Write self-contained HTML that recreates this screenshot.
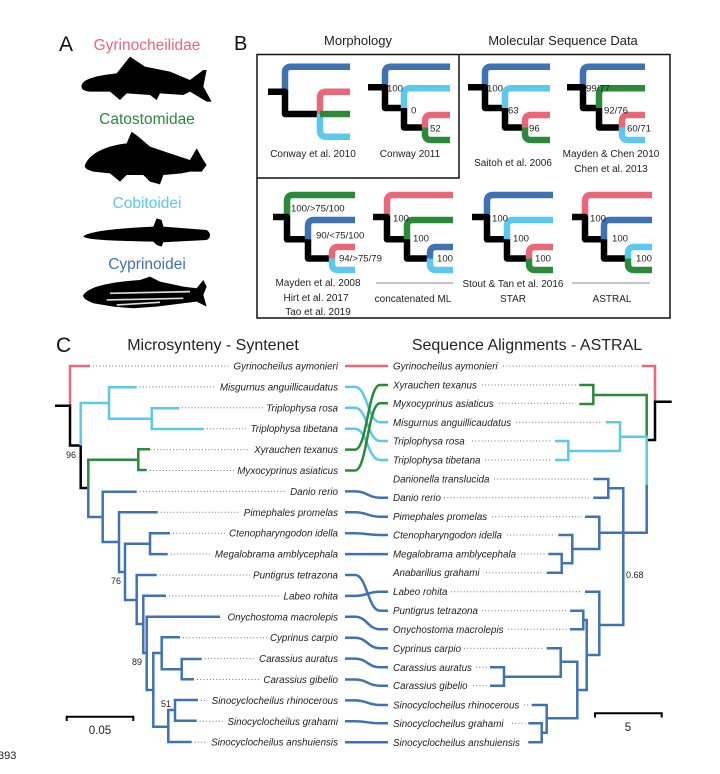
<!DOCTYPE html>
<html><head><meta charset="utf-8"><style>
html,body{margin:0;padding:0;background:#fff;}
svg{display:block;font-family:"Liberation Sans",Arial,sans-serif;}
.sp{font-size:9.8px;font-style:italic;fill:#222;}
.bt{font-size:9.6px;fill:#222;}
.cap{font-size:10px;fill:#222;text-anchor:middle;}
.dot{stroke:#777;stroke-width:1;stroke-dasharray:1 2.2;fill:none;}
.t path{fill:none;stroke-width:6.5;stroke-linecap:butt;stroke-linejoin:round;}
.c path{fill:none;stroke-width:2.5;}
</style></head><body>
<svg width="720" height="774" viewBox="0 0 720 774" xmlns="http://www.w3.org/2000/svg">
<!-- Panel A -->
<text x="59" y="51" font-size="21" fill="#111">A</text>
<text x="147" y="50" font-size="15.5" fill="#e8687a" text-anchor="middle">Gyrinocheilidae</text>
<text x="147" y="124" font-size="15.5" fill="#2a8a3a" text-anchor="middle">Catostomidae</text>
<text x="147" y="208" font-size="15.5" fill="#5bc8ef" text-anchor="middle">Cobitoidei</text>
<text x="147" y="269" font-size="15.5" fill="#3f72b2" text-anchor="middle">Cyprinoidei</text>
<g transform="translate(50,25) scale(0.3333)">
<path fill="#000" d="M95,180 C100,160 150,150 200,145 L240,95 L285,125 L360,140 L420,165 L460,135 L470,135 L460,185 L485,230 L470,230 L420,200 L400,210 L330,205 L320,225 L300,210 L230,205 L210,225 L180,200 L120,200 C100,198 92,192 95,180 Z"/>
<path fill="#000" d="M105,420 C120,380 180,360 230,355 L245,320 L265,335 L300,365 L360,385 L420,405 L440,370 L460,405 L470,420 L455,440 L420,440 L395,445 L340,450 L330,478 L300,470 L280,450 L230,450 L210,470 L180,445 L130,440 C110,435 102,428 105,420 Z"/>
<path fill="#000" d="M100,635 C110,620 200,610 310,605 L320,580 L335,585 L340,605 L470,615 C485,625 482,640 470,645 L340,652 L335,665 L320,660 L310,650 C200,648 110,645 100,635 Z"/>
<path fill="#000" d="M100,810 C120,780 200,770 270,765 L300,755 L330,770 L400,785 L440,790 L460,765 L470,785 L460,810 L470,845 L440,830 L400,835 L320,845 L250,850 L190,845 L130,835 C105,825 98,818 100,810 Z"/>
<g stroke="#ddd" stroke-width="5" fill="none"><path d="M180,805 L420,800"/><path d="M170,825 L400,820"/><path d="M200,840 L330,832"/></g>
</g>

<!-- Panel B -->
<text x="234" y="50" font-size="20" fill="#111">B</text>
<text x="358" y="45" font-size="13" fill="#222" text-anchor="middle">Morphology</text>
<text x="563" y="45" font-size="13" fill="#222" text-anchor="middle">Molecular Sequence Data</text>
<rect x="257" y="54.5" width="413" height="263.5" fill="none" stroke="#111" stroke-width="1.5"/>
<path d="M459,54.5 V178 H257" fill="none" stroke="#111" stroke-width="1.5"/>

<g class="t">
<!-- Tree1 Conway 2010 -->
<path stroke="#3f72b2" d="M350,66.7 H291 Q285,66.7 285,72.7 V91.7"/>
<path stroke="#000" d="M268,91.7 H285 V114 H320"/>
<path stroke="#e8687a" d="M350,91.7 H326 Q320,91.7 320,97.7 V114"/>
<path stroke="#5bc8ef" d="M320,114 V130.7 Q320,136.7 326,136.7 H350"/>
<path stroke="#2a8a3a" d="M320,114 H350"/>
<!-- Tree2 -->
<path stroke="#3f72b2" d="M450,66.7 H391 Q385,66.7 385,72.7 V87.3"/>
<path stroke="#000" d="M368,87.3 H385 V108 H404"/>
<path stroke="#5bc8ef" d="M450,88.3 H410 Q404,88.3 404,94.3 V108"/>
<path stroke="#000" d="M404,108 V127.5 H425"/>
<path stroke="#e8687a" d="M450,115 H431 Q425,115 425,121 V127.5"/>
<path stroke="#2a8a3a" d="M425,127.5 V134 Q425,140 431,140 H450"/>
<!-- Tree3 -->
<path stroke="#3f72b2" d="M550,66.7 H491 Q485,66.7 485,72.7 V87.3"/>
<path stroke="#000" d="M468,87.3 H485 V108 H505"/>
<path stroke="#5bc8ef" d="M550,88.3 H511 Q505,88.3 505,94.3 V108"/>
<path stroke="#000" d="M505,108 V127.5 H525"/>
<path stroke="#e8687a" d="M550,115 H531 Q525,115 525,121 V127.5"/>
<path stroke="#2a8a3a" d="M525,127.5 V134 Q525,140 531,140 H550"/>
<!-- Tree4 -->
<path stroke="#3f72b2" d="M645,66.7 H589 Q583,66.7 583,72.7 V87.3"/>
<path stroke="#000" d="M567,87.3 H583 V108 H599"/>
<path stroke="#2a8a3a" d="M645,88.3 H605 Q599,88.3 599,94.3 V108"/>
<path stroke="#000" d="M599,108 V127.5 H622"/>
<path stroke="#e8687a" d="M645,115 H628 Q622,115 622,121 V127.5"/>
<path stroke="#5bc8ef" d="M622,127.5 V134 Q622,140 628,140 H645"/>
<!-- Tree5 -->
<path stroke="#2a8a3a" d="M355,195 H293 Q287,195 287,201 V217"/>
<path stroke="#000" d="M273,217 H287 V239.3 H308"/>
<path stroke="#3f72b2" d="M355,220 H314 Q308,220 308,226 V239.3"/>
<path stroke="#000" d="M308,239.3 V258.5 H332"/>
<path stroke="#e8687a" d="M355,247 H338 Q332,247 332,253 V258.5"/>
<path stroke="#5bc8ef" d="M332,258.5 V264 Q332,270 338,270 H355"/>
<!-- Tree6 -->
<path stroke="#e8687a" d="M453,195 H393 Q387,195 387,201 V217"/>
<path stroke="#000" d="M373,217 H387 V239.3 H407"/>
<path stroke="#2a8a3a" d="M453,220 H413 Q407,220 407,226 V239.3"/>
<path stroke="#000" d="M407,239.3 V258.5 H430"/>
<path stroke="#3f72b2" d="M453,247 H436 Q430,247 430,253 V258.5"/>
<path stroke="#5bc8ef" d="M430,258.5 V264 Q430,270 436,270 H453"/>
<!-- Tree7 -->
<path stroke="#3f72b2" d="M553,195 H493 Q487,195 487,201 V217"/>
<path stroke="#000" d="M472,217 H487 V239.3 H507"/>
<path stroke="#5bc8ef" d="M553,220 H513 Q507,220 507,226 V239.3"/>
<path stroke="#000" d="M507,239.3 V258.5 H529"/>
<path stroke="#e8687a" d="M553,247 H535 Q529,247 529,253 V258.5"/>
<path stroke="#2a8a3a" d="M529,258.5 V264 Q529,270 535,270 H553"/>
<!-- Tree8 -->
<path stroke="#e8687a" d="M652,195 H591 Q585,195 585,201 V217"/>
<path stroke="#000" d="M572,217 H585 V239.3 H604"/>
<path stroke="#3f72b2" d="M652,220 H610 Q604,220 604,226 V239.3"/>
<path stroke="#000" d="M604,239.3 V258.5 H628"/>
<path stroke="#5bc8ef" d="M652,247 H634 Q628,247 628,253 V258.5"/>
<path stroke="#2a8a3a" d="M628,258.5 V264 Q628,270 634,270 H652"/>
</g>
<g class="bt">
<text x="387" y="91.5">100</text><text x="411" y="113.5">0</text><text x="430" y="131.5">52</text>
<text x="487" y="91.5">100</text><text x="508" y="113.5">63</text><text x="529" y="131.5">96</text>
<text x="586" y="91.5">99/77</text><text x="604" y="113.5">92/76</text><text x="627" y="131.5">60/71</text>
<text x="291" y="211.5">100/&gt;75/100</text><text x="316" y="238.5">90/&lt;75/100</text><text x="339" y="261.5">94/&gt;75/79</text>
<text x="393" y="221.5">100</text><text x="413" y="241.5">100</text><text x="437" y="261.5">100</text>
<text x="492" y="221.5">100</text><text x="513" y="241.5">100</text><text x="535" y="261.5">100</text>
<text x="590" y="221.5">100</text><text x="612" y="241.5">100</text><text x="636" y="261.5">100</text>
</g>
<g class="cap">
<text x="313" y="157">Conway et al. 2010</text>
<text x="410" y="157">Conway 2011</text>
<text x="513" y="166">Saitoh et al. 2006</text>
<text x="611" y="157">Mayden &amp; Chen 2010</text>
<text x="611" y="172">Chen et al. 2013</text>
<text x="318" y="286">Mayden et al. 2008</text>
<text x="316" y="301">Hirt et al. 2017</text>
<text x="318" y="315">Tao et al. 2019</text>
<text x="513" y="287">Stout &amp; Tan et al. 2016</text>
<text x="413" y="302">concatenated ML</text>
<text x="513" y="302">STAR</text>
<text x="612" y="302">ASTRAL</text>
</g>
<path d="M376,283 H453 M572,283 H650" stroke="#666" stroke-width="0.8"/>

<!-- Panel C -->
<text x="56" y="352" font-size="21" fill="#111">C</text>
<text x="213" y="350" font-size="16" fill="#222" text-anchor="middle">Microsynteny - Syntenet</text>
<text x="527" y="350" font-size="16" fill="#222" text-anchor="middle">Sequence Alignments - ASTRAL</text>

<g class="c">
<path stroke="#e8687a" d="M90,366 H70 V405.8"/>
<path stroke="#000" d="M55,405.8 H70 V445.5 H80.7 V488 H88.3"/>
<path stroke="#5bc8ef" d="M80.7,445.5 V403 H109 M136.7,387.3 H109 V418.7 H151.7 M179.3,408.3 H151.7 V429 H204"/>
<path stroke="#2a8a3a" d="M88.3,488 V459.7 H138.3 M150,449.3 H138.3 V470 H146.7"/>
<path stroke="#3f72b2" d="M88.3,488 V517 H102.7 M136.7,491.7 H102.7 V542 H119 M157.7,512.3 H119 V572 H125 M150,543.7 H125 V600 H136.7 M170,533.2 H150 V554.1 H167.7 M156.7,575 H136.7 V624 H143.3 M166,595.7 H143.3 V653 H146.7 M220,616.7 H146.7 V690 H153.3 M161.7,653 H153.3 V726.7 H168.3 M180,637.3 H161.7 V669.3 H181.7 M201.7,659 H181.7 V679.3 H194 M175,710 H168.3 V742 H191.7 M198,700 H175 V720.7 H196.7"/>
<!-- connectors -->
<path stroke="#e8687a" d="M345,366 H388"/>
<path stroke="#5bc8ef" d="M345,386.9 H355 C367,386.9 368,422.3 380,422.3 H388 M345,407.8 H355 C367,407.8 368,441 380,441 H388 M345,428.7 H355 C367,428.7 368,460 380,460 H388"/>
<path stroke="#2a8a3a" d="M345,449.6 H355 C367,449.6 368,385 380,385 H388 M345,470.5 H355 C367,470.5 368,403.3 380,403.3 H388"/>
<path stroke="#3f72b2" d="M345,491.4 H355 C367,491.4 368,497.7 380,497.7 H388 M345,512.3 H355 C367,512.3 368,516.7 380,516.7 H388 M345,533.2 H355 C367,533.2 368,535 380,535 H388 M345,554.1 H388 M345,575 H355 C367,575 368,610.7 380,610.7 H388 M345,595.9 H355 C367,595.9 368,591.7 380,591.7 H388 M345,616.8 H355 C367,616.8 368,629.3 380,629.3 H388 M345,637.7 H355 C367,637.7 368,648.3 380,648.3 H388 M345,658.6 H355 C367,658.6 368,667.3 380,667.3 H388 M345,679.5 H355 C367,679.5 368,685.7 380,685.7 H388 M345,700.4 H355 C367,700.4 368,705 380,705 H388 M345,721.3 H355 C367,721.3 368,723.3 380,723.3 H388 M345,742.2 H388"/>
<!-- right tree -->
<path stroke="#e8687a" d="M641.7,366 H655 V401.7"/>
<path stroke="#000" d="M671.7,401.7 H655 V440 H646.7"/>
<path stroke="#2a8a3a" d="M646.7,437 V395 H593.3 M579.3,385 H593.3 V404 H579.3"/>
<path stroke="#5bc8ef" d="M620,436.7 H646.7 V485 M605.7,422.3 H620 V451.7 M620,451 H568.3 M555,441 H568.3 V460 H555"/>
<path stroke="#3f72b2" d="M646.7,485 V532.7 H599.3 M585,516.7 H599.3 V549 H572.3 M558.3,535 H572.3 V563.3 H561.7 M548.3,554 H561.7 V572.7 H546.7 M593.3,479 H608.3 V497.7 H593.3 M608.3,488.3 H623.3 V625 H599.3 M585,591.7 H599.3 V655 H586.7 M570,610.7 H583.3 V629.3 H570 M583.3,620 H586.7 V690 H577.3 M546.7,648.3 H560.7 V676.7 H504 M490,667.3 H504 V685.7 H490 M560.7,661.7 H577.3 V718.3 H546.7 M531.7,705 H546.7 V732.7 H541.7 M528.3,723.3 H541.7 V742.3 H528.3"/>
</g>
<!-- left dotted leaders -->
<path class="dot" d="M93,366 H229 M139.7,386.9 H215 M182,407.8 H263 M207,428.7 H246 M141,449.6 H250 M150,470.5 H234 M139.7,491.4 H287 M160.7,512.3 H240 M173,533.2 H225 M170.7,554.1 H210 M159.7,575 H250 M169,595.9 H280 M183,637.7 H267 M204.7,658.6 H255 M197,679.5 H260 M201,700.4 H207 M199.7,721.3 H223 M194.7,742.2 H207"/>
<!-- right dotted leaders -->
<path class="dot" d="M503,366 H638.7 M482,385 H576.3 M499,403.3 H576.3 M516,422.3 H602.7 M472,441 H552 M485,460 H552 M494,479 H590.3 M444,497.7 H590.3 M492,516.7 H582 M507,535 H555.3 M521,554 H545.3 M486,572.7 H543.7 M451,591.7 H582 M482,610.7 H567 M508,629.3 H567 M464,648.3 H543.7 M476,667.3 H487 M473,685.7 H487 M524,705 H528.7 M512,723.3 H525.3 M525,742.3 H525.3"/>
<g class="sp" text-anchor="end">
<text x="338" y="369.5">Gyrinocheilus aymonieri</text>
<text x="338" y="390.4">Misgurnus anguillicaudatus</text>
<text x="338" y="411.3">Triplophysa rosa</text>
<text x="338" y="432.2">Triplophysa tibetana</text>
<text x="338" y="453.1">Xyrauchen texanus</text>
<text x="338" y="474">Myxocyprinus asiaticus</text>
<text x="338" y="494.9">Danio rerio</text>
<text x="338" y="515.8">Pimephales promelas</text>
<text x="338" y="536.7">Ctenopharyngodon idella</text>
<text x="338" y="557.6">Megalobrama amblycephala</text>
<text x="338" y="578.5">Puntigrus tetrazona</text>
<text x="338" y="599.4">Labeo rohita</text>
<text x="338" y="620.3">Onychostoma macrolepis</text>
<text x="338" y="641.2">Cyprinus carpio</text>
<text x="338" y="662.1">Carassius auratus</text>
<text x="338" y="683">Carassius gibelio</text>
<text x="338" y="703.9">Sinocyclocheilus rhinocerous</text>
<text x="338" y="724.8">Sinocyclocheilus grahami</text>
<text x="338" y="745.7">Sinocyclocheilus anshuiensis</text>
</g>
<g class="sp">
<text x="393" y="369.5">Gyrinocheilus aymonieri</text>
<text x="393" y="388.5">Xyrauchen texanus</text>
<text x="393" y="406.8">Myxocyprinus asiaticus</text>
<text x="393" y="425.8">Misgurnus anguillicaudatus</text>
<text x="393" y="444.5">Triplophysa rosa</text>
<text x="393" y="463.5">Triplophysa tibetana</text>
<text x="393" y="482.5">Danionella translucida</text>
<text x="393" y="501.2">Danio rerio</text>
<text x="393" y="520.2">Pimephales promelas</text>
<text x="393" y="538.5">Ctenopharyngodon idella</text>
<text x="393" y="557.5">Megalobrama amblycephala</text>
<text x="393" y="576.2">Anabarilius grahami</text>
<text x="393" y="595.2">Labeo rohita</text>
<text x="393" y="614.2">Puntigrus tetrazona</text>
<text x="393" y="632.8">Onychostoma macrolepis</text>
<text x="393" y="651.8">Cyprinus carpio</text>
<text x="393" y="670.8">Carassius auratus</text>
<text x="393" y="689.2">Carassius gibelio</text>
<text x="393" y="708.5">Sinocyclocheilus rhinocerous</text>
<text x="393" y="726.8">Sinocyclocheilus grahami</text>
<text x="393" y="745.8">Sinocyclocheilus anshuiensis</text>
</g>
<g font-size="9" fill="#222">
<text x="66" y="458">96</text>
<text x="111" y="584">76</text>
<text x="132" y="665">89</text>
<text x="161" y="707">51</text>
<text x="626" y="578">0.68</text>
</g>
<!-- scale bars -->
<path d="M66.7,721 V716.7 H133.3 V721" fill="none" stroke="#000" stroke-width="2"/>
<text x="100" y="734" font-size="11.5" fill="#222" text-anchor="middle">0.05</text>
<path d="M595,717.5 V713.3 H661.7 V717.5" fill="none" stroke="#000" stroke-width="2"/>
<text x="628" y="731" font-size="11.5" fill="#222" text-anchor="middle">5</text>
<text x="-2" y="759" font-size="11" fill="#222">393</text>
</svg>
</body></html>
